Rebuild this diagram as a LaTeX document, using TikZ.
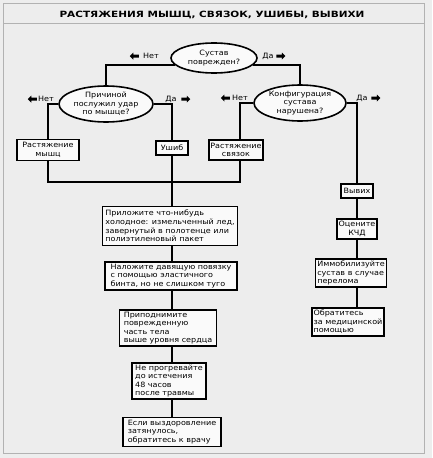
\documentclass[tikz,border=0pt]{standalone}
\usepackage{fontspec}
\setmainfont{DejaVu Sans}
\newfontfamily\bodyfont[FakeStretch=1.1]{DejaVu Sans}
\newfontfamily\titlefont[FakeStretch=1.22]{DejaVu Sans}
\usetikzlibrary{shapes.geometric,shapes.arrows}
\begin{document}
\begin{tikzpicture}[x=1pt,y=-1pt,
  every node/.style={font=\bodyfont\fontsize{7.3}{8.6}\selectfont},
  box/.style={draw,line width=1.9pt,fill=gray!4,inner xsep=1.8pt,inner ysep=2pt},
  ask/.style={ellipse,draw,line width=1.6pt,fill=gray!4,inner sep=0pt,align=center},
  wire/.style={line width=1.8pt},
  larr/.style={single arrow,fill=black,draw=none,shape border rotate=180,minimum height=9pt,single arrow head extend=2pt,inner sep=1.3pt},
  rarr/.style={larr,shape border rotate=0},
  frame/.style={draw=gray!60,line width=1pt}
]
\fill[gray!14] (0,0) rectangle (432,458);
\useasboundingbox (0,0) rectangle (432,458);
\draw[frame] (3,3) rectangle (424,453);
\draw[frame] (3,23) -- (424,23);
\node[font=\titlefont\bfseries\fontsize{8.6}{10}\selectfont] (title) at (212,15) {РАСТЯЖЕНИЯ МЫШЦ, СВЯЗОК, УШИБЫ, ВЫВИХИ};

% questions
\node[ask,minimum width=86pt,minimum height=30pt] (q1) at (214,58) {Сустав\\поврежден?};
\node[ask,minimum width=94pt,minimum height=36pt] (q2) at (106,104) {Причиной\\послужил удар\\по мышце?};
\node[ask,minimum width=92pt,minimum height=36pt] (q3) at (300,103) {Конфигурация\\сустава\\нарушена?};

% outcome boxes
\node[box,minimum width=62pt,minimum height=21pt,align=center] (m1) at (48,150) {Растяжение\\мышц};
\node[box,minimum width=32pt,minimum height=14pt] (u1) at (172,148) {Ушиб};
\node[box,minimum width=54pt,minimum height=20pt,align=center] (s1) at (236,150) {Растяжение\\связок};
\node[box,minimum width=32pt,minimum height=14pt] (v1) at (357,191) {Вывих};
\node[box,minimum width=31pt,minimum height=18pt,align=center] (k1) at (357,229) {Оцените\\КЧД};
\node[box,minimum width=59pt,minimum height=28pt,align=left] (i1) at (351,273) {Иммобилизуйте\\сустав в случае\\перелома};
\node[box,minimum width=59pt,minimum height=28pt,align=left] (o1) at (348,322) {Обратитесь\\за медицинской\\помощью};

% action chain
\node[box,minimum width=135pt,minimum height=39pt,align=left] (a1) at (170,226) {Приложите что-нибудь\\холодное: измельченный лед,\\завернутый в полотенце или\\полиэтиленовый пакет};
\node[box,minimum width=132pt,minimum height=27pt,align=left] (a2) at (171,276) {Наложите давящую повязку\\с помощью эластичного\\бинта, но не слишком туго};
\node[box,minimum width=97pt,minimum height=36pt,align=left] (a3) at (168,328) {Приподнимите\\поврежденную\\часть тела\\выше уровня сердца};
\node[box,minimum width=74pt,minimum height=32pt,align=left] (a4) at (169,381) {Не прогревайте\\до истечения\\48 часов\\после травмы};
\node[box,minimum width=98pt,minimum height=29pt,align=left] (a5) at (172,432) {Если выздоровление\\затянулось,\\обратитесь к врачу};

\coordinate (j) at (172,182);

% connectors
\draw[wire] (q1.190) -| (q2.north);
\draw[wire] (q1.-10) -| (q3.north);
\draw[wire] (q2.west) -| (m1.north);
\draw[wire] (q2.east) -| (u1.north);
\draw[wire] (q3.west) -| ([xshift=4pt]s1.north);
\draw[wire] (q3.east) -| (v1.north);
\draw[wire] (m1.south) |- ([xshift=4pt]s1.south |- j) -- ([xshift=4pt]s1.south);
\draw[wire] (u1.south) -- (a1.north -| u1.south);
\draw[wire] (a1.south -| u1) -- (a2.north -| u1);
\draw[wire] (a2.south -| u1) -- (a3.north -| u1);
\draw[wire] (a3.south -| u1) -- (a4.north -| u1);
\draw[wire] (a4.south -| u1) -- (a5.north -| u1);
\draw[wire] (v1.south) -- (k1.north);
\draw[wire] (k1.south) -- (i1.north -| k1);
\draw[wire] (i1.south -| k1) -- (o1.north -| k1);

% yes / no labels
\node[larr] (n1a) at (135,56) {};
\node (n1) at (151,56) {Нет};
\node (d1) at (268,56) {Да};
\node[rarr] (d1a) at (280,56) {};
\node[larr] (n2a) at (33,99) {};
\node (n2) at (46,99) {Нет};
\node (d2) at (171,99) {Да};
\node[rarr] (d2a) at (185,99) {};
\node[larr] (n3a) at (226,98) {};
\node (n3) at (240,98) {Нет};
\node (d3) at (362,98) {Да};
\node[rarr] (d3a) at (375,98) {};
\end{tikzpicture}
\end{document}
